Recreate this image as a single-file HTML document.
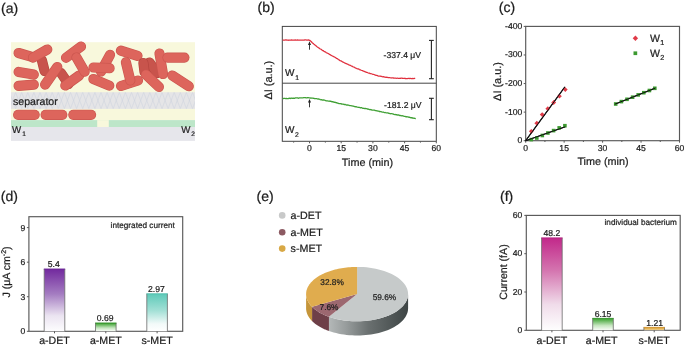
<!DOCTYPE html>
<html><head><meta charset="utf-8"><style>
html,body{margin:0;padding:0;background:#fff;}
body{width:685px;height:345px;overflow:hidden;}
svg{display:block;font-family:"Liberation Sans",sans-serif;will-change:transform;text-rendering:geometricPrecision;}
text{stroke:#1e1e1e;stroke-width:0.22px;}
</style></head><body>
<svg width="685" height="345" viewBox="0 0 685 345">
<rect width="685" height="345" fill="#fff"/>
<text x="1.00" y="12.80" font-size="14" text-anchor="start" fill="#1e1e1e" >(a)</text>
<text x="257.60" y="12.40" font-size="14" text-anchor="start" fill="#1e1e1e" >(b)</text>
<text x="498.80" y="12.40" font-size="14" text-anchor="start" fill="#1e1e1e" >(c)</text>
<text x="0.80" y="201.40" font-size="14" text-anchor="start" fill="#1e1e1e" >(d)</text>
<text x="256.60" y="201.10" font-size="14" text-anchor="start" fill="#1e1e1e" >(e)</text>
<text x="500.00" y="201.10" font-size="14" text-anchor="start" fill="#1e1e1e" >(f)</text>
<rect x="11" y="42.2" width="184" height="78" fill="#f8f8dc"/>
<rect x="11" y="92.2" width="184" height="16.7" fill="#e5e5e7"/>
<clipPath id="sepc"><rect x="11" y="92.2" width="184" height="16.7"/></clipPath>
<path d="M3.40,92.4 L9.50,108.6 M9.50,92.4 L3.40,108.6 M9.50,92.4 L15.60,108.6 M15.60,92.4 L9.50,108.6 M15.60,92.4 L21.70,108.6 M21.70,92.4 L15.60,108.6 M21.70,92.4 L27.80,108.6 M27.80,92.4 L21.70,108.6 M27.80,92.4 L33.90,108.6 M33.90,92.4 L27.80,108.6 M33.90,92.4 L40.00,108.6 M40.00,92.4 L33.90,108.6 M40.00,92.4 L46.10,108.6 M46.10,92.4 L40.00,108.6 M46.10,92.4 L52.20,108.6 M52.20,92.4 L46.10,108.6 M52.20,92.4 L58.30,108.6 M58.30,92.4 L52.20,108.6 M58.30,92.4 L64.40,108.6 M64.40,92.4 L58.30,108.6 M64.40,92.4 L70.50,108.6 M70.50,92.4 L64.40,108.6 M70.50,92.4 L76.60,108.6 M76.60,92.4 L70.50,108.6 M76.60,92.4 L82.70,108.6 M82.70,92.4 L76.60,108.6 M82.70,92.4 L88.80,108.6 M88.80,92.4 L82.70,108.6 M88.80,92.4 L94.90,108.6 M94.90,92.4 L88.80,108.6 M94.90,92.4 L101.00,108.6 M101.00,92.4 L94.90,108.6 M101.00,92.4 L107.10,108.6 M107.10,92.4 L101.00,108.6 M107.10,92.4 L113.20,108.6 M113.20,92.4 L107.10,108.6 M113.20,92.4 L119.30,108.6 M119.30,92.4 L113.20,108.6 M119.30,92.4 L125.40,108.6 M125.40,92.4 L119.30,108.6 M125.40,92.4 L131.50,108.6 M131.50,92.4 L125.40,108.6 M131.50,92.4 L137.60,108.6 M137.60,92.4 L131.50,108.6 M137.60,92.4 L143.70,108.6 M143.70,92.4 L137.60,108.6 M143.70,92.4 L149.80,108.6 M149.80,92.4 L143.70,108.6 M149.80,92.4 L155.90,108.6 M155.90,92.4 L149.80,108.6 M155.90,92.4 L162.00,108.6 M162.00,92.4 L155.90,108.6 M162.00,92.4 L168.10,108.6 M168.10,92.4 L162.00,108.6 M168.10,92.4 L174.20,108.6 M174.20,92.4 L168.10,108.6 M174.20,92.4 L180.30,108.6 M180.30,92.4 L174.20,108.6 M180.30,92.4 L186.40,108.6 M186.40,92.4 L180.30,108.6 M186.40,92.4 L192.50,108.6 M192.50,92.4 L186.40,108.6 M192.50,92.4 L198.60,108.6 M198.60,92.4 L192.50,108.6 M198.60,92.4 L204.70,108.6 M204.70,92.4 L198.60,108.6" stroke="#ced3de" stroke-width="0.55" fill="none" clip-path="url(#sepc)"/>
<rect x="11" y="120.1" width="184" height="7" fill="#bde6c9"/>
<rect x="97.2" y="120.1" width="11.6" height="7" fill="#f8f8dc"/>
<rect x="11" y="127" width="184" height="13.9" fill="#e6e6eb"/>
<line x1="18.1" y1="114.8" x2="34.7" y2="114.8" stroke="#cb564f" stroke-width="10.2" stroke-linecap="round"/>
<line x1="18.1" y1="114.8" x2="34.7" y2="114.8" stroke="#dd655c" stroke-width="8.90" stroke-linecap="round"/>
<line x1="45.6" y1="114.8" x2="62.3" y2="114.8" stroke="#cb564f" stroke-width="10.2" stroke-linecap="round"/>
<line x1="45.6" y1="114.8" x2="62.3" y2="114.8" stroke="#dd655c" stroke-width="8.90" stroke-linecap="round"/>
<line x1="73.3" y1="114.8" x2="91.1" y2="114.8" stroke="#cb564f" stroke-width="10.2" stroke-linecap="round"/>
<line x1="73.3" y1="114.8" x2="91.1" y2="114.8" stroke="#dd655c" stroke-width="8.90" stroke-linecap="round"/>
<line x1="41.9" y1="60.3" x2="44.6" y2="71.0" stroke="#b5463f" stroke-width="10.2" stroke-linecap="round"/>
<line x1="41.9" y1="60.3" x2="44.6" y2="71.0" stroke="#c8544c" stroke-width="8.90" stroke-linecap="round"/>
<line x1="61.0" y1="73.0" x2="68.5" y2="84.0" stroke="#b5463f" stroke-width="10.2" stroke-linecap="round"/>
<line x1="61.0" y1="73.0" x2="68.5" y2="84.0" stroke="#c8544c" stroke-width="8.90" stroke-linecap="round"/>
<line x1="110.0" y1="54.8" x2="101.0" y2="71.5" stroke="#cb564f" stroke-width="10.2" stroke-linecap="round"/>
<line x1="110.0" y1="54.8" x2="101.0" y2="71.5" stroke="#dd655c" stroke-width="8.90" stroke-linecap="round"/>
<line x1="149.5" y1="62.5" x2="157.0" y2="73.0" stroke="#b5463f" stroke-width="10.2" stroke-linecap="round"/>
<line x1="149.5" y1="62.5" x2="157.0" y2="73.0" stroke="#c8544c" stroke-width="8.90" stroke-linecap="round"/>
<line x1="18.6" y1="53.0" x2="31.1" y2="56.7" stroke="#cb564f" stroke-width="10.2" stroke-linecap="round"/>
<line x1="18.6" y1="53.0" x2="31.1" y2="56.7" stroke="#dd655c" stroke-width="8.90" stroke-linecap="round"/>
<line x1="33.0" y1="57.6" x2="47.3" y2="49.5" stroke="#cb564f" stroke-width="10.2" stroke-linecap="round"/>
<line x1="33.0" y1="57.6" x2="47.3" y2="49.5" stroke="#dd655c" stroke-width="8.90" stroke-linecap="round"/>
<line x1="18.6" y1="71.9" x2="33.8" y2="74.6" stroke="#cb564f" stroke-width="10.2" stroke-linecap="round"/>
<line x1="18.6" y1="71.9" x2="33.8" y2="74.6" stroke="#dd655c" stroke-width="8.90" stroke-linecap="round"/>
<line x1="18.6" y1="85.9" x2="33.8" y2="84.6" stroke="#cb564f" stroke-width="10.2" stroke-linecap="round"/>
<line x1="18.6" y1="85.9" x2="33.8" y2="84.6" stroke="#dd655c" stroke-width="8.90" stroke-linecap="round"/>
<line x1="45.1" y1="84.6" x2="57.3" y2="67.0" stroke="#cb564f" stroke-width="10.2" stroke-linecap="round"/>
<line x1="45.1" y1="84.6" x2="57.3" y2="67.0" stroke="#dd655c" stroke-width="8.90" stroke-linecap="round"/>
<line x1="65.3" y1="85.5" x2="79.2" y2="75.5" stroke="#cb564f" stroke-width="10.2" stroke-linecap="round"/>
<line x1="65.3" y1="85.5" x2="79.2" y2="75.5" stroke="#dd655c" stroke-width="8.90" stroke-linecap="round"/>
<line x1="66.0" y1="57.8" x2="81.0" y2="46.5" stroke="#cb564f" stroke-width="10.2" stroke-linecap="round"/>
<line x1="66.0" y1="57.8" x2="81.0" y2="46.5" stroke="#dd655c" stroke-width="8.90" stroke-linecap="round"/>
<line x1="76.5" y1="57.5" x2="84.7" y2="71.7" stroke="#cb564f" stroke-width="10.2" stroke-linecap="round"/>
<line x1="76.5" y1="57.5" x2="84.7" y2="71.7" stroke="#dd655c" stroke-width="8.90" stroke-linecap="round"/>
<line x1="93.5" y1="67.5" x2="109.6" y2="68.2" stroke="#cb564f" stroke-width="10.2" stroke-linecap="round"/>
<line x1="93.5" y1="67.5" x2="109.6" y2="68.2" stroke="#dd655c" stroke-width="8.90" stroke-linecap="round"/>
<line x1="93.4" y1="79.0" x2="109.3" y2="85.6" stroke="#cb564f" stroke-width="10.2" stroke-linecap="round"/>
<line x1="93.4" y1="79.0" x2="109.3" y2="85.6" stroke="#dd655c" stroke-width="8.90" stroke-linecap="round"/>
<line x1="120.9" y1="50.7" x2="137.5" y2="55.8" stroke="#cb564f" stroke-width="10.2" stroke-linecap="round"/>
<line x1="120.9" y1="50.7" x2="137.5" y2="55.8" stroke="#dd655c" stroke-width="8.90" stroke-linecap="round"/>
<line x1="121.0" y1="86.0" x2="138.0" y2="80.5" stroke="#cb564f" stroke-width="10.2" stroke-linecap="round"/>
<line x1="121.0" y1="86.0" x2="138.0" y2="80.5" stroke="#dd655c" stroke-width="8.90" stroke-linecap="round"/>
<line x1="125.9" y1="62.3" x2="130.3" y2="80.4" stroke="#cb564f" stroke-width="10.2" stroke-linecap="round"/>
<line x1="125.9" y1="62.3" x2="130.3" y2="80.4" stroke="#dd655c" stroke-width="8.90" stroke-linecap="round"/>
<line x1="143.4" y1="63.0" x2="144.5" y2="72.0" stroke="#b5463f" stroke-width="10.2" stroke-linecap="round"/>
<line x1="143.4" y1="63.0" x2="144.5" y2="72.0" stroke="#c8544c" stroke-width="8.90" stroke-linecap="round"/>
<line x1="159.5" y1="53.5" x2="163.0" y2="74.0" stroke="#cb564f" stroke-width="10.2" stroke-linecap="round"/>
<line x1="159.5" y1="53.5" x2="163.0" y2="74.0" stroke="#dd655c" stroke-width="8.90" stroke-linecap="round"/>
<line x1="145.9" y1="74.6" x2="158.9" y2="86.9" stroke="#cb564f" stroke-width="10.2" stroke-linecap="round"/>
<line x1="145.9" y1="74.6" x2="158.9" y2="86.9" stroke="#dd655c" stroke-width="8.90" stroke-linecap="round"/>
<line x1="167.5" y1="57.6" x2="184.4" y2="57.6" stroke="#cb564f" stroke-width="10.2" stroke-linecap="round"/>
<line x1="167.5" y1="57.6" x2="184.4" y2="57.6" stroke="#dd655c" stroke-width="8.90" stroke-linecap="round"/>
<line x1="172.3" y1="75.5" x2="188.8" y2="86.2" stroke="#cb564f" stroke-width="10.2" stroke-linecap="round"/>
<line x1="172.3" y1="75.5" x2="188.8" y2="86.2" stroke="#dd655c" stroke-width="8.90" stroke-linecap="round"/>
<text x="13.00" y="104.50" font-size="10.6" text-anchor="start" fill="#1e1e1e" >separator</text>
<text x="12.00" y="133.00" font-size="9.7" text-anchor="start" fill="#1e1e1e" >W</text>
<text x="22.30" y="136.20" font-size="6.6" text-anchor="start" fill="#1e1e1e" >1</text>
<text x="181.30" y="133.00" font-size="9.7" text-anchor="start" fill="#1e1e1e" >W</text>
<text x="191.20" y="136.20" font-size="6.6" text-anchor="start" fill="#1e1e1e" >2</text>
<rect x="282.3" y="26.4" width="154.0" height="114.9" fill="none" stroke="#444444" stroke-width="1"/>
<line x1="282.30" y1="83.20" x2="436.30" y2="83.20" stroke="#444444" stroke-width="1" />
<line x1="309.50" y1="141.30" x2="309.50" y2="143.30" stroke="#585858" stroke-width="1" />
<text x="309.50" y="150.90" font-size="8.6" text-anchor="middle" fill="#1e1e1e" >0</text>
<line x1="341.20" y1="141.30" x2="341.20" y2="143.30" stroke="#585858" stroke-width="1" />
<text x="341.20" y="150.90" font-size="8.6" text-anchor="middle" fill="#1e1e1e" >15</text>
<line x1="372.90" y1="141.30" x2="372.90" y2="143.30" stroke="#585858" stroke-width="1" />
<text x="372.90" y="150.90" font-size="8.6" text-anchor="middle" fill="#1e1e1e" >30</text>
<line x1="404.60" y1="141.30" x2="404.60" y2="143.30" stroke="#585858" stroke-width="1" />
<text x="404.60" y="150.90" font-size="8.6" text-anchor="middle" fill="#1e1e1e" >45</text>
<line x1="436.30" y1="141.30" x2="436.30" y2="143.30" stroke="#585858" stroke-width="1" />
<text x="436.30" y="150.90" font-size="8.6" text-anchor="middle" fill="#1e1e1e" >60</text>
<line x1="293.65" y1="141.30" x2="293.65" y2="142.60" stroke="#585858" stroke-width="1" />
<line x1="325.35" y1="141.30" x2="325.35" y2="142.60" stroke="#585858" stroke-width="1" />
<line x1="357.05" y1="141.30" x2="357.05" y2="142.60" stroke="#585858" stroke-width="1" />
<line x1="388.75" y1="141.30" x2="388.75" y2="142.60" stroke="#585858" stroke-width="1" />
<line x1="420.45" y1="141.30" x2="420.45" y2="142.60" stroke="#585858" stroke-width="1" />
<text x="367.40" y="165.80" font-size="10.8" text-anchor="middle" fill="#1e1e1e" >Time (min)</text>
<text transform="translate(271.9,80.2) rotate(-90)" font-size="10.9" text-anchor="middle" fill="#1e1e1e">ΔI (a.u.)</text>
<text x="285.00" y="75.90" font-size="10" text-anchor="start" fill="#1e1e1e" >W</text>
<text x="295.20" y="79.80" font-size="6.8" text-anchor="start" fill="#1e1e1e" >1</text>
<text x="285.00" y="133.30" font-size="10" text-anchor="start" fill="#1e1e1e" >W</text>
<text x="294.90" y="137.00" font-size="6.8" text-anchor="start" fill="#1e1e1e" >2</text>
<path d="M282.60,40.01 L283.20,40.12 L283.80,40.05 L284.40,40.14 L285.00,40.15 L285.60,39.94 L286.20,39.92 L286.80,40.22 L287.40,40.01 L288.00,40.00 L288.60,40.28 L289.20,40.09 L289.80,40.22 L290.40,40.09 L291.00,40.15 L291.60,39.97 L292.20,40.15 L292.80,40.23 L293.40,40.11 L294.00,40.19 L294.60,40.16 L295.20,39.94 L295.80,40.19 L296.40,40.13 L297.00,40.03 L297.60,39.93 L298.20,40.23 L298.80,40.09 L299.40,40.18 L300.00,40.23 L300.60,40.17 L301.20,40.24 L301.80,40.04 L302.40,40.18 L303.00,40.05 L303.60,40.22 L304.20,40.19 L304.80,39.91 L305.40,39.91 L306.00,39.94 L306.60,40.20 L307.20,40.00 L307.80,40.06 L308.40,39.94 L309.00,40.13 L309.60,40.31 L310.20,40.65 L310.80,41.20 L311.40,41.78 L312.00,42.48 L312.60,42.96 L313.20,43.60 L313.80,44.09 L314.40,44.65 L315.00,45.02 L315.60,45.32 L316.20,46.05 L316.80,46.57 L317.40,47.03 L318.00,47.37 L318.60,47.86 L319.20,48.10 L319.80,48.72 L320.40,49.01 L321.00,49.29 L321.60,49.60 L322.20,50.27 L322.80,50.69 L323.40,50.74 L324.00,51.36 L324.60,51.56 L325.20,51.81 L325.80,52.20 L326.40,52.70 L327.00,53.07 L327.60,53.11 L328.20,53.65 L328.80,53.78 L329.40,54.36 L330.00,54.55 L330.60,55.09 L331.20,55.46 L331.80,55.62 L332.40,56.13 L333.00,56.22 L333.60,56.48 L334.20,57.01 L334.80,57.15 L335.40,57.57 L336.00,58.00 L336.60,58.43 L337.20,58.62 L337.80,58.94 L338.40,59.59 L339.00,59.74 L339.60,60.32 L340.20,60.63 L340.80,60.78 L341.40,61.13 L342.00,61.48 L342.60,61.86 L343.20,62.17 L343.80,62.48 L344.40,62.80 L345.00,63.21 L345.60,63.34 L346.20,63.58 L346.80,63.95 L347.40,64.04 L348.00,64.34 L348.60,64.86 L349.20,64.97 L349.80,65.26 L350.40,65.35 L351.00,65.77 L351.60,66.11 L352.20,66.19 L352.80,66.69 L353.40,66.98 L354.00,67.05 L354.60,67.54 L355.20,67.75 L355.80,68.10 L356.40,68.24 L357.00,68.61 L357.60,68.87 L358.20,68.85 L358.80,69.10 L359.40,69.56 L360.00,69.91 L360.60,69.89 L361.20,70.20 L361.80,70.49 L362.40,70.64 L363.00,70.89 L363.60,71.11 L364.20,71.37 L364.80,71.69 L365.40,71.83 L366.00,72.09 L366.60,72.45 L367.20,72.40 L367.80,72.79 L368.40,73.04 L369.00,73.07 L369.60,73.22 L370.20,73.61 L370.80,73.59 L371.40,73.75 L372.00,74.02 L372.60,74.30 L373.20,74.26 L373.80,74.52 L374.40,74.71 L375.00,75.07 L375.60,75.11 L376.20,75.44 L376.80,75.37 L377.40,75.59 L378.00,75.85 L378.60,76.07 L379.20,76.02 L379.80,76.05 L380.40,76.11 L381.00,76.36 L381.60,76.35 L382.20,76.67 L382.80,76.79 L383.40,76.65 L384.00,76.79 L384.60,77.09 L385.20,77.13 L385.80,77.29 L386.40,77.23 L387.00,77.26 L387.60,77.42 L388.20,77.69 L388.80,77.58 L389.40,77.66 L390.00,77.74 L390.60,77.77 L391.20,77.80 L391.80,78.02 L392.40,77.77 L393.00,77.75 L393.60,78.12 L394.20,78.13 L394.80,78.21 L395.40,78.04 L396.00,78.26 L396.60,78.28 L397.20,78.06 L397.80,78.28 L398.40,78.35 L399.00,78.32 L399.60,78.29 L400.20,78.23 L400.80,78.26 L401.40,78.23 L402.00,78.19 L402.60,78.38 L403.20,78.29 L403.80,78.49 L404.40,78.22 L405.00,78.54 L405.60,78.48 L406.20,78.57 L406.80,78.57 L407.40,78.58 L408.00,78.48 L408.60,78.29 L409.20,78.56 L409.80,78.36 L410.40,78.42 L411.00,78.55 L411.60,78.51 L412.20,78.47 L412.80,78.66 L413.40,78.54 L414.00,78.44 L414.60,78.41 L415.20,78.63" stroke="#e0303e" stroke-width="1.25" fill="none" stroke-linejoin="round"/>
<path d="M282.60,98.48 L283.20,98.61 L283.80,98.41 L284.40,98.33 L285.00,98.47 L285.60,98.58 L286.20,98.29 L286.80,98.55 L287.40,98.59 L288.00,98.53 L288.60,98.53 L289.20,98.16 L289.80,98.42 L290.40,98.51 L291.00,98.14 L291.60,98.23 L292.20,98.21 L292.80,98.31 L293.40,98.24 L294.00,98.24 L294.60,98.34 L295.20,97.97 L295.80,97.96 L296.40,97.96 L297.00,97.93 L297.60,97.87 L298.20,98.24 L298.80,98.16 L299.40,97.79 L300.00,97.94 L300.60,97.82 L301.20,97.79 L301.80,97.78 L302.40,97.88 L303.00,97.82 L303.60,97.69 L304.20,97.60 L304.80,97.66 L305.40,97.57 L306.00,97.78 L306.60,97.87 L307.20,97.75 L307.80,97.64 L308.40,97.71 L309.00,97.82 L309.60,97.96 L310.20,98.09 L310.80,97.97 L311.40,98.22 L312.00,98.21 L312.60,98.19 L313.20,98.24 L313.80,98.36 L314.40,98.53 L315.00,98.49 L315.60,98.70 L316.20,98.70 L316.80,98.72 L317.40,98.95 L318.00,99.13 L318.60,98.97 L319.20,99.23 L319.80,99.34 L320.40,99.65 L321.00,99.78 L321.60,99.64 L322.20,99.98 L322.80,100.05 L323.40,99.93 L324.00,100.13 L324.60,100.09 L325.20,100.51 L325.80,100.56 L326.40,100.78 L327.00,100.85 L327.60,100.92 L328.20,101.06 L328.80,101.11 L329.40,101.02 L330.00,101.35 L330.60,101.21 L331.20,101.39 L331.80,101.79 L332.40,101.59 L333.00,101.75 L333.60,101.89 L334.20,102.38 L334.80,102.21 L335.40,102.29 L336.00,102.79 L336.60,102.62 L337.20,103.08 L337.80,103.15 L338.40,103.36 L339.00,103.56 L339.60,103.53 L340.20,103.76 L340.80,103.55 L341.40,103.99 L342.00,104.00 L342.60,104.21 L343.20,104.06 L343.80,104.46 L344.40,104.66 L345.00,104.39 L345.60,104.63 L346.20,104.85 L346.80,105.09 L347.40,104.95 L348.00,105.04 L348.60,105.19 L349.20,105.47 L349.80,105.65 L350.40,105.61 L351.00,105.71 L351.60,105.84 L352.20,105.94 L352.80,106.09 L353.40,106.06 L354.00,106.36 L354.60,106.69 L355.20,106.56 L355.80,106.83 L356.40,106.69 L357.00,107.04 L357.60,107.19 L358.20,107.27 L358.80,107.32 L359.40,107.42 L360.00,107.61 L360.60,107.84 L361.20,107.63 L361.80,107.72 L362.40,108.13 L363.00,108.32 L363.60,108.27 L364.20,108.35 L364.80,108.59 L365.40,108.48 L366.00,108.63 L366.60,108.72 L367.20,109.01 L367.80,109.01 L368.40,109.09 L369.00,109.41 L369.60,109.64 L370.20,109.47 L370.80,109.77 L371.40,109.76 L372.00,110.07 L372.60,110.07 L373.20,110.05 L373.80,110.15 L374.40,110.18 L375.00,110.50 L375.60,110.57 L376.20,110.60 L376.80,110.80 L377.40,110.90 L378.00,111.22 L378.60,111.06 L379.20,111.55 L379.80,111.45 L380.40,111.62 L381.00,111.68 L381.60,111.96 L382.20,112.07 L382.80,112.07 L383.40,112.16 L384.00,112.38 L384.60,112.56 L385.20,112.48 L385.80,112.74 L386.40,112.96 L387.00,112.86 L387.60,112.88 L388.20,113.00 L388.80,113.33 L389.40,113.43 L390.00,113.67 L390.60,113.74 L391.20,113.59 L391.80,113.69 L392.40,113.84 L393.00,113.92 L393.60,114.27 L394.20,114.46 L394.80,114.59 L395.40,114.43 L396.00,114.81 L396.60,114.69 L397.20,114.86 L397.80,115.11 L398.40,114.94 L399.00,115.07 L399.60,115.51 L400.20,115.39 L400.80,115.54 L401.40,115.75 L402.00,115.91 L402.60,115.74 L403.20,116.00 L403.80,116.16 L404.40,116.30 L405.00,116.30 L405.60,116.58 L406.20,116.87 L406.80,116.74 L407.40,116.92 L408.00,116.85 L408.60,117.04 L409.20,117.33 L409.80,117.21 L410.40,117.67 L411.00,117.79 L411.60,117.55 L412.20,118.04 L412.80,117.91 L413.40,118.21 L414.00,118.32 L414.60,118.23 L415.20,118.50 L415.80,118.56" stroke="#40a035" stroke-width="1.3" fill="none" stroke-linejoin="round"/>
<line x1="309.50" y1="43.30" x2="309.50" y2="49.70" stroke="#222" stroke-width="0.9" />
<path d="M309.5,41.30 L311.0,44.90 L308.0,44.90 Z" fill="#222"/>
<line x1="309.50" y1="100.90" x2="309.50" y2="107.30" stroke="#222" stroke-width="0.9" />
<path d="M309.5,98.90 L311.0,102.50 L308.0,102.50 Z" fill="#222"/>
<line x1="431.40" y1="40.40" x2="431.40" y2="78.70" stroke="#222" stroke-width="1.1" />
<line x1="429.00" y1="40.40" x2="433.80" y2="40.40" stroke="#222" stroke-width="1.1" />
<line x1="429.00" y1="78.70" x2="433.80" y2="78.70" stroke="#222" stroke-width="1.1" />
<line x1="431.40" y1="98.30" x2="431.40" y2="119.70" stroke="#222" stroke-width="1.1" />
<line x1="429.00" y1="98.30" x2="433.80" y2="98.30" stroke="#222" stroke-width="1.1" />
<line x1="429.00" y1="119.70" x2="433.80" y2="119.70" stroke="#222" stroke-width="1.1" />
<text x="402.30" y="58.00" font-size="8.6" text-anchor="middle" fill="#1e1e1e" >-337.4 μV</text>
<text x="402.80" y="107.80" font-size="8.6" text-anchor="middle" fill="#1e1e1e" >-181.2 μV</text>
<rect x="525.7" y="26.4" width="153.79999999999995" height="114.29999999999998" fill="none" stroke="#585858" stroke-width="1.15"/>
<line x1="525.70" y1="140.70" x2="525.70" y2="142.70" stroke="#585858" stroke-width="1" />
<text x="525.70" y="151.40" font-size="8.6" text-anchor="middle" fill="#1e1e1e" >0</text>
<line x1="564.15" y1="140.70" x2="564.15" y2="142.70" stroke="#585858" stroke-width="1" />
<text x="564.15" y="151.40" font-size="8.6" text-anchor="middle" fill="#1e1e1e" >15</text>
<line x1="602.60" y1="140.70" x2="602.60" y2="142.70" stroke="#585858" stroke-width="1" />
<text x="602.60" y="151.40" font-size="8.6" text-anchor="middle" fill="#1e1e1e" >30</text>
<line x1="641.05" y1="140.70" x2="641.05" y2="142.70" stroke="#585858" stroke-width="1" />
<text x="641.05" y="151.40" font-size="8.6" text-anchor="middle" fill="#1e1e1e" >45</text>
<line x1="679.50" y1="140.70" x2="679.50" y2="142.70" stroke="#585858" stroke-width="1" />
<text x="679.50" y="151.40" font-size="8.6" text-anchor="middle" fill="#1e1e1e" >60</text>
<line x1="544.93" y1="140.70" x2="544.93" y2="142.00" stroke="#585858" stroke-width="1" />
<line x1="583.38" y1="140.70" x2="583.38" y2="142.00" stroke="#585858" stroke-width="1" />
<line x1="621.83" y1="140.70" x2="621.83" y2="142.00" stroke="#585858" stroke-width="1" />
<line x1="660.27" y1="140.70" x2="660.27" y2="142.00" stroke="#585858" stroke-width="1" />
<line x1="523.70" y1="140.70" x2="525.70" y2="140.70" stroke="#585858" stroke-width="1" />
<text x="522.30" y="143.20" font-size="8.6" text-anchor="end" fill="#1e1e1e" >0</text>
<line x1="523.70" y1="112.12" x2="525.70" y2="112.12" stroke="#585858" stroke-width="1" />
<text x="522.30" y="114.62" font-size="8.6" text-anchor="end" fill="#1e1e1e" >-100</text>
<line x1="523.70" y1="83.55" x2="525.70" y2="83.55" stroke="#585858" stroke-width="1" />
<text x="522.30" y="86.05" font-size="8.6" text-anchor="end" fill="#1e1e1e" >-200</text>
<line x1="523.70" y1="54.97" x2="525.70" y2="54.97" stroke="#585858" stroke-width="1" />
<text x="522.30" y="57.47" font-size="8.6" text-anchor="end" fill="#1e1e1e" >-300</text>
<line x1="523.70" y1="26.40" x2="525.70" y2="26.40" stroke="#585858" stroke-width="1" />
<text x="522.30" y="28.90" font-size="8.6" text-anchor="end" fill="#1e1e1e" >-400</text>
<text x="603.00" y="165.30" font-size="10.8" text-anchor="middle" fill="#1e1e1e" >Time (min)</text>
<text transform="translate(501.2,81.5) rotate(-90)" font-size="10.9" text-anchor="middle" fill="#1e1e1e">ΔI (a.u.)</text>
<line x1="525.70" y1="140.70" x2="564.90" y2="86.90" stroke="#111" stroke-width="1.2" />
<line x1="525.70" y1="140.70" x2="565.30" y2="126.80" stroke="#111" stroke-width="1.2" />
<line x1="614.80" y1="104.20" x2="655.30" y2="88.10" stroke="#111" stroke-width="1.2" />
<path d="M531.30,128.90 L533.70,131.30 L531.30,133.70 L528.90,131.30 Z" fill="#e03a48"/>
<path d="M536.80,120.80 L539.20,123.20 L536.80,125.60 L534.40,123.20 Z" fill="#e03a48"/>
<path d="M542.20,112.20 L544.60,114.60 L542.20,117.00 L539.80,114.60 Z" fill="#e03a48"/>
<path d="M547.80,106.30 L550.20,108.70 L547.80,111.10 L545.40,108.70 Z" fill="#e03a48"/>
<path d="M553.70,100.10 L556.10,102.50 L553.70,104.90 L551.30,102.50 Z" fill="#e03a48"/>
<path d="M559.40,93.80 L561.80,96.20 L559.40,98.60 L557.00,96.20 Z" fill="#e03a48"/>
<path d="M565.30,87.20 L567.70,89.60 L565.30,92.00 L562.90,89.60 Z" fill="#e03a48"/>
<rect x="529.50" y="137.80" width="3.6" height="3.6" fill="#3c9a30"/>
<rect x="535.00" y="136.20" width="3.6" height="3.6" fill="#3c9a30"/>
<rect x="540.50" y="133.70" width="3.6" height="3.6" fill="#3c9a30"/>
<rect x="546.10" y="131.20" width="3.6" height="3.6" fill="#3c9a30"/>
<rect x="551.80" y="128.80" width="3.6" height="3.6" fill="#3c9a30"/>
<rect x="557.40" y="126.10" width="3.6" height="3.6" fill="#3c9a30"/>
<rect x="563.10" y="123.90" width="3.6" height="3.6" fill="#3c9a30"/>
<rect x="613.90" y="102.20" width="3.6" height="3.6" fill="#3c9a30"/>
<rect x="619.60" y="99.80" width="3.6" height="3.6" fill="#3c9a30"/>
<rect x="625.20" y="97.50" width="3.6" height="3.6" fill="#3c9a30"/>
<rect x="630.80" y="95.40" width="3.6" height="3.6" fill="#3c9a30"/>
<rect x="636.40" y="93.10" width="3.6" height="3.6" fill="#3c9a30"/>
<rect x="642.00" y="90.90" width="3.6" height="3.6" fill="#3c9a30"/>
<rect x="647.60" y="88.70" width="3.6" height="3.6" fill="#3c9a30"/>
<rect x="653.00" y="86.50" width="3.6" height="3.6" fill="#3c9a30"/>
<line x1="525.70" y1="140.70" x2="564.90" y2="86.90" stroke="#111" stroke-width="1.0" />
<line x1="525.70" y1="140.70" x2="565.30" y2="126.80" stroke="#111" stroke-width="1.0" />
<line x1="614.80" y1="104.20" x2="655.30" y2="88.10" stroke="#111" stroke-width="1.0" />
<path d="M635.4,35.6 L638.1,38.3 L635.4,41.0 L632.7,38.3 Z" fill="#e03a48"/>
<rect x="633.5" y="51.4" width="3.7" height="3.7" fill="#3c9a30"/>
<text x="650.00" y="42.10" font-size="10.6" text-anchor="start" fill="#1e1e1e" >W</text>
<text x="660.20" y="44.90" font-size="7.2" text-anchor="start" fill="#1e1e1e" >1</text>
<text x="650.00" y="57.10" font-size="10.6" text-anchor="start" fill="#1e1e1e" >W</text>
<text x="660.20" y="59.90" font-size="7.2" text-anchor="start" fill="#1e1e1e" >2</text>
<defs>
<linearGradient id="gP" x1="0" y1="0" x2="0" y2="1"><stop offset="0" stop-color="#72299e"/><stop offset="0.4" stop-color="#a47cc1"/><stop offset="0.75" stop-color="#ebe4f1"/><stop offset="1" stop-color="#fdfdfe"/></linearGradient>
<linearGradient id="gG" x1="0" y1="0" x2="0" y2="1"><stop offset="0" stop-color="#38a02c"/><stop offset="0.6" stop-color="#c6e6c0"/><stop offset="1" stop-color="#fbfdfa"/></linearGradient>
<linearGradient id="gT" x1="0" y1="0" x2="0" y2="1"><stop offset="0" stop-color="#5ecab9"/><stop offset="0.45" stop-color="#a3e0d6"/><stop offset="0.8" stop-color="#f2faf9"/><stop offset="1" stop-color="#ffffff"/></linearGradient>
<linearGradient id="gM" x1="0" y1="0" x2="0" y2="1"><stop offset="0" stop-color="#c2288a"/><stop offset="0.35" stop-color="#d474af"/><stop offset="0.72" stop-color="#f0dcea"/><stop offset="1" stop-color="#fefefe"/></linearGradient>
<linearGradient id="gO" x1="0" y1="0" x2="0" y2="1"><stop offset="0" stop-color="#d9a030"/><stop offset="0.7" stop-color="#e8c070"/><stop offset="1" stop-color="#fdf6e8"/></linearGradient>
<linearGradient id="sideG" x1="0" y1="0" x2="1" y2="0"><stop offset="0" stop-color="#b4b8b8"/><stop offset="0.22" stop-color="#979c9c"/><stop offset="0.5" stop-color="#6a7070"/><stop offset="0.9" stop-color="#464d4d"/><stop offset="1" stop-color="#3e4545"/></linearGradient>
</defs>
<rect x="28.9" y="216.7" width="153.79999999999998" height="114.60000000000002" fill="none" stroke="#585858" stroke-width="1.15"/>
<line x1="26.90" y1="331.30" x2="28.90" y2="331.30" stroke="#585858" stroke-width="1" />
<text x="25.40" y="334.40" font-size="8.6" text-anchor="end" fill="#1e1e1e" >0</text>
<line x1="26.90" y1="296.73" x2="28.90" y2="296.73" stroke="#585858" stroke-width="1" />
<text x="25.40" y="299.83" font-size="8.6" text-anchor="end" fill="#1e1e1e" >3</text>
<line x1="26.90" y1="262.17" x2="28.90" y2="262.17" stroke="#585858" stroke-width="1" />
<text x="25.40" y="265.27" font-size="8.6" text-anchor="end" fill="#1e1e1e" >6</text>
<line x1="26.90" y1="227.60" x2="28.90" y2="227.60" stroke="#585858" stroke-width="1" />
<text x="25.40" y="230.70" font-size="8.6" text-anchor="end" fill="#1e1e1e" >9</text>
<rect x="44.20" y="269.00" width="20.6" height="62.30" fill="url(#gP)"/>
<line x1="44.20" y1="269.00" x2="44.20" y2="331.30" stroke="#6a6a6a" stroke-width="0.8" />
<line x1="64.80" y1="269.00" x2="64.80" y2="331.30" stroke="#6a6a6a" stroke-width="0.8" />
<line x1="43.80" y1="269.00" x2="65.20" y2="269.00" stroke="#6a2496" stroke-width="0.9" />
<line x1="54.50" y1="331.30" x2="54.50" y2="333.30" stroke="#585858" stroke-width="1" />
<text x="54.50" y="344.00" font-size="10.6" text-anchor="middle" fill="#1e1e1e" >a-DET</text>
<text x="53.80" y="267.40" font-size="8.6" text-anchor="middle" fill="#1e1e1e" >5.4</text>
<rect x="95.50" y="323.00" width="20.6" height="8.30" fill="url(#gG)"/>
<line x1="95.50" y1="323.00" x2="95.50" y2="331.30" stroke="#6a6a6a" stroke-width="0.8" />
<line x1="116.10" y1="323.00" x2="116.10" y2="331.30" stroke="#6a6a6a" stroke-width="0.8" />
<line x1="95.10" y1="323.00" x2="116.50" y2="323.00" stroke="#2f8f26" stroke-width="0.9" />
<line x1="105.80" y1="331.30" x2="105.80" y2="333.30" stroke="#585858" stroke-width="1" />
<text x="105.80" y="344.00" font-size="10.6" text-anchor="middle" fill="#1e1e1e" >a-MET</text>
<text x="105.10" y="321.40" font-size="8.6" text-anchor="middle" fill="#1e1e1e" >0.69</text>
<rect x="146.80" y="293.80" width="20.6" height="37.50" fill="url(#gT)"/>
<line x1="146.80" y1="293.80" x2="146.80" y2="331.30" stroke="#6a6a6a" stroke-width="0.8" />
<line x1="167.40" y1="293.80" x2="167.40" y2="331.30" stroke="#6a6a6a" stroke-width="0.8" />
<line x1="146.40" y1="293.80" x2="167.80" y2="293.80" stroke="#4dbdab" stroke-width="0.9" />
<line x1="157.10" y1="331.30" x2="157.10" y2="333.30" stroke="#585858" stroke-width="1" />
<text x="157.10" y="344.00" font-size="10.6" text-anchor="middle" fill="#1e1e1e" >s-MET</text>
<text x="156.40" y="292.20" font-size="8.6" text-anchor="middle" fill="#1e1e1e" >2.97</text>
<text x="174.80" y="227.50" font-size="8.2" text-anchor="end" fill="#1e1e1e" >integrated current</text>
<text transform="translate(9.8,272) rotate(-90)" font-size="10.6" text-anchor="middle" fill="#1e1e1e">J (μA cm<tspan font-size="7" dy="-3.5">-2</tspan><tspan dy="3.5">)</tspan></text>
<circle cx="282.2" cy="215.4" r="3.3" fill="#c8c9c9"/>
<text x="290.60" y="219.10" font-size="10.7" text-anchor="start" fill="#1e1e1e" >a-DET</text>
<circle cx="282.2" cy="232.3" r="3.3" fill="#8c5a62"/>
<text x="290.60" y="236.00" font-size="10.7" text-anchor="start" fill="#1e1e1e" >a-MET</text>
<circle cx="282.2" cy="248.6" r="3.3" fill="#d8a845"/>
<text x="290.60" y="252.30" font-size="10.7" text-anchor="start" fill="#1e1e1e" >s-MET</text>
<path d="M408.10,294.10 L408.03,295.57 L407.80,297.03 L407.44,298.48 L406.92,299.92 L406.26,301.34 L405.46,302.74 L404.51,304.12 L403.43,305.47 L402.22,306.78 L400.87,308.06 L399.40,309.30 L397.80,310.49 L396.09,311.63 L394.26,312.73 L392.33,313.77 L390.29,314.75 L388.16,315.68 L385.93,316.54 L383.62,317.33 L381.24,318.06 L378.78,318.72 L376.27,319.31 L373.69,319.82 L371.07,320.26 L368.41,320.62 L365.71,320.91 L362.99,321.12 L360.26,321.25 L357.51,321.30 L354.76,321.27 L352.02,321.16 L349.30,320.98 L346.59,320.72 L343.92,320.38 L341.29,319.96 L338.70,319.47 L336.16,318.90 L333.69,318.26 L331.28,317.56 L328.95,316.78 L328.95,330.98 L331.28,331.76 L333.69,332.46 L336.16,333.10 L338.70,333.67 L341.29,334.16 L343.92,334.58 L346.59,334.92 L349.30,335.18 L352.02,335.36 L354.76,335.47 L357.51,335.50 L360.26,335.45 L362.99,335.32 L365.71,335.11 L368.41,334.82 L371.07,334.46 L373.69,334.02 L376.27,333.51 L378.78,332.92 L381.24,332.26 L383.62,331.53 L385.93,330.74 L388.16,329.88 L390.29,328.95 L392.33,327.97 L394.26,326.93 L396.09,325.83 L397.80,324.69 L399.40,323.50 L400.87,322.26 L402.22,320.98 L403.43,319.67 L404.51,318.32 L405.46,316.94 L406.26,315.54 L406.92,314.12 L407.44,312.68 L407.80,311.23 L408.03,309.77 L408.10,308.30 Z" fill="url(#sideG)"/>
<path d="M328.95,316.78 L328.42,316.59 L327.90,316.40 L327.38,316.21 L326.87,316.01 L326.36,315.81 L325.86,315.60 L325.36,315.39 L324.87,315.18 L324.38,314.96 L323.89,314.74 L323.41,314.52 L322.94,314.30 L322.47,314.07 L322.01,313.84 L321.55,313.60 L321.10,313.37 L320.65,313.13 L320.21,312.88 L319.78,312.64 L319.35,312.39 L318.93,312.14 L318.51,311.88 L318.10,311.62 L317.69,311.36 L317.29,311.10 L316.90,310.84 L316.51,310.57 L316.13,310.30 L315.76,310.03 L315.39,309.75 L315.03,309.47 L314.67,309.19 L314.32,308.91 L313.98,308.62 L313.64,308.34 L313.32,308.05 L312.99,307.76 L312.68,307.46 L312.37,307.17 L312.07,306.87 L312.07,321.07 L312.37,321.37 L312.68,321.66 L312.99,321.96 L313.32,322.25 L313.64,322.54 L313.98,322.82 L314.32,323.11 L314.67,323.39 L315.03,323.67 L315.39,323.95 L315.76,324.23 L316.13,324.50 L316.51,324.77 L316.90,325.04 L317.29,325.30 L317.69,325.56 L318.10,325.82 L318.51,326.08 L318.93,326.34 L319.35,326.59 L319.78,326.84 L320.21,327.08 L320.65,327.33 L321.10,327.57 L321.55,327.80 L322.01,328.04 L322.47,328.27 L322.94,328.50 L323.41,328.72 L323.89,328.94 L324.38,329.16 L324.87,329.38 L325.36,329.59 L325.86,329.80 L326.36,330.01 L326.87,330.21 L327.38,330.41 L327.90,330.60 L328.42,330.79 L328.95,330.98 Z" fill="#6e3f48"/>
<path d="M312.07,306.87 L311.78,306.58 L311.50,306.28 L311.22,305.98 L310.95,305.68 L310.69,305.38 L310.44,305.08 L310.19,304.77 L309.95,304.47 L309.71,304.16 L309.49,303.85 L309.27,303.54 L309.06,303.22 L308.85,302.91 L308.65,302.60 L308.46,302.28 L308.28,301.96 L308.10,301.64 L307.93,301.32 L307.77,301.00 L307.61,300.68 L307.47,300.36 L307.33,300.03 L307.20,299.71 L307.07,299.38 L306.95,299.06 L306.84,298.73 L306.74,298.40 L306.65,298.07 L306.56,297.74 L306.48,297.41 L306.41,297.08 L306.34,296.75 L306.29,296.42 L306.24,296.09 L306.20,295.76 L306.16,295.43 L306.13,295.10 L306.12,294.76 L306.10,294.43 L306.10,294.10 L306.10,308.30 L306.10,308.63 L306.12,308.96 L306.13,309.30 L306.16,309.63 L306.20,309.96 L306.24,310.29 L306.29,310.62 L306.34,310.95 L306.41,311.28 L306.48,311.61 L306.56,311.94 L306.65,312.27 L306.74,312.60 L306.84,312.93 L306.95,313.26 L307.07,313.58 L307.20,313.91 L307.33,314.23 L307.47,314.56 L307.61,314.88 L307.77,315.20 L307.93,315.52 L308.10,315.84 L308.28,316.16 L308.46,316.48 L308.65,316.80 L308.85,317.11 L309.06,317.42 L309.27,317.74 L309.49,318.05 L309.71,318.36 L309.95,318.67 L310.19,318.97 L310.44,319.28 L310.69,319.58 L310.95,319.88 L311.22,320.18 L311.50,320.48 L311.78,320.78 L312.07,321.07 Z" fill="#c5953a"/>
<path d="M357.10,294.10 L357.10,266.90 L360.27,266.95 L363.42,267.11 L366.55,267.37 L369.64,267.73 L372.68,268.20 L375.67,268.77 L378.58,269.43 L381.41,270.19 L384.14,271.04 L386.78,271.98 L389.29,273.00 L391.69,274.11 L393.95,275.29 L396.06,276.55 L398.03,277.87 L399.84,279.26 L401.48,280.70 L402.96,282.20 L404.25,283.74 L405.37,285.32 L406.30,286.93 L407.04,288.58 L407.58,290.24 L407.94,291.92 L408.09,293.61 L408.05,295.29 L407.81,296.98 L407.38,298.65 L406.75,300.31 L405.94,301.94 L404.93,303.54 L403.74,305.11 L402.37,306.63 L400.82,308.10 L399.11,309.52 L397.23,310.88 L395.20,312.18 L393.03,313.41 L390.71,314.56 L388.26,315.63 L385.70,316.62 L383.02,317.52 L380.25,318.34 L377.38,319.06 L374.44,319.68 L371.43,320.20 L368.36,320.63 L365.25,320.95 L362.11,321.17 L358.95,321.28 L355.79,321.29 L352.63,321.20 L349.48,320.99 L346.37,320.69 L343.29,320.28 L340.27,319.78 L337.32,319.17 L334.44,318.47 L331.64,317.67 L328.95,316.78 Z" fill="#c6caca"/>
<path d="M357.10,294.10 L328.95,316.78 L328.60,316.66 L328.25,316.53 L327.90,316.40 L327.56,316.27 L327.21,316.14 L326.87,316.01 L326.53,315.87 L326.19,315.74 L325.86,315.60 L325.53,315.46 L325.20,315.32 L324.87,315.18 L324.54,315.04 L324.22,314.89 L323.89,314.74 L323.57,314.60 L323.26,314.45 L322.94,314.30 L322.63,314.15 L322.32,313.99 L322.01,313.84 L321.70,313.68 L321.40,313.53 L321.10,313.37 L320.80,313.21 L320.51,313.05 L320.21,312.88 L319.92,312.72 L319.63,312.55 L319.35,312.39 L319.07,312.22 L318.79,312.05 L318.51,311.88 L318.23,311.71 L317.96,311.54 L317.69,311.36 L317.42,311.19 L317.16,311.01 L316.90,310.84 L316.64,310.66 L316.38,310.48 L316.13,310.30 L315.88,310.12 L315.63,309.93 L315.39,309.75 L315.15,309.56 L314.91,309.38 L314.67,309.19 L314.44,309.00 L314.21,308.81 L313.98,308.62 L313.76,308.43 L313.53,308.24 L313.32,308.05 L313.10,307.85 L312.89,307.66 L312.68,307.46 L312.47,307.27 L312.27,307.07 L312.07,306.87 Z" fill="#9c6870"/>
<path d="M357.10,294.10 L312.07,306.87 L311.27,306.04 L310.53,305.19 L309.85,304.33 L309.22,303.46 L308.64,302.58 L308.13,301.69 L307.67,300.79 L307.26,299.88 L306.92,298.96 L306.64,298.04 L306.41,297.12 L306.25,296.19 L306.15,295.25 L306.10,294.32 L306.12,293.39 L306.19,292.46 L306.33,291.52 L306.52,290.60 L306.78,289.67 L307.09,288.75 L307.47,287.84 L307.90,286.94 L308.39,286.04 L308.94,285.15 L309.54,284.28 L310.20,283.41 L310.92,282.56 L311.69,281.72 L312.51,280.90 L313.38,280.09 L314.31,279.30 L315.29,278.52 L316.32,277.77 L317.39,277.03 L318.51,276.31 L319.68,275.62 L320.89,274.95 L322.14,274.29 L323.44,273.67 L324.77,273.06 L326.15,272.48 L327.56,271.93 L329.00,271.40 L330.48,270.90 L331.99,270.43 L333.52,269.98 L335.09,269.56 L336.68,269.17 L338.30,268.82 L339.94,268.49 L341.59,268.19 L343.27,267.92 L344.96,267.68 L346.67,267.47 L348.39,267.30 L350.12,267.16 L351.86,267.04 L353.60,266.96 L355.35,266.92 L357.10,266.90 Z" fill="#e0ac4e"/>
<text x="384.40" y="299.60" font-size="8.3" text-anchor="middle" fill="#1e1e1e" >59.6%</text>
<text x="332.10" y="284.90" font-size="8.3" text-anchor="middle" fill="#1e1e1e" >32.8%</text>
<text x="329.00" y="309.60" font-size="8.3" text-anchor="middle" fill="#1e1e1e" >7.6%</text>
<rect x="526.3" y="215.4" width="153.9000000000001" height="114.9" fill="none" stroke="#585858" stroke-width="1.15"/>
<line x1="524.30" y1="330.30" x2="526.30" y2="330.30" stroke="#585858" stroke-width="1" />
<text x="522.30" y="332.90" font-size="8.6" text-anchor="end" fill="#1e1e1e" >0</text>
<line x1="524.30" y1="292.00" x2="526.30" y2="292.00" stroke="#585858" stroke-width="1" />
<text x="522.30" y="294.60" font-size="8.6" text-anchor="end" fill="#1e1e1e" >20</text>
<line x1="524.30" y1="253.70" x2="526.30" y2="253.70" stroke="#585858" stroke-width="1" />
<text x="522.30" y="256.30" font-size="8.6" text-anchor="end" fill="#1e1e1e" >40</text>
<line x1="524.30" y1="215.40" x2="526.30" y2="215.40" stroke="#585858" stroke-width="1" />
<text x="522.30" y="218.00" font-size="8.6" text-anchor="end" fill="#1e1e1e" >60</text>
<rect x="541.60" y="237.90" width="20.6" height="92.40" fill="url(#gM)"/>
<line x1="541.60" y1="237.90" x2="541.60" y2="330.30" stroke="#6a6a6a" stroke-width="0.8" />
<line x1="562.20" y1="237.90" x2="562.20" y2="330.30" stroke="#6a6a6a" stroke-width="0.8" />
<line x1="541.20" y1="237.90" x2="562.60" y2="237.90" stroke="#b52080" stroke-width="0.9" />
<line x1="551.90" y1="330.30" x2="551.90" y2="332.30" stroke="#585858" stroke-width="1" />
<text x="551.90" y="343.60" font-size="10.6" text-anchor="middle" fill="#1e1e1e" >a-DET</text>
<text x="551.90" y="236.10" font-size="8.6" text-anchor="middle" fill="#1e1e1e" >48.2</text>
<rect x="592.70" y="318.40" width="20.6" height="11.90" fill="url(#gG)"/>
<line x1="592.70" y1="318.40" x2="592.70" y2="330.30" stroke="#6a6a6a" stroke-width="0.8" />
<line x1="613.30" y1="318.40" x2="613.30" y2="330.30" stroke="#6a6a6a" stroke-width="0.8" />
<line x1="592.30" y1="318.40" x2="613.70" y2="318.40" stroke="#2f8f26" stroke-width="0.9" />
<line x1="603.00" y1="330.30" x2="603.00" y2="332.30" stroke="#585858" stroke-width="1" />
<text x="601.70" y="343.60" font-size="10.6" text-anchor="middle" fill="#1e1e1e" >a-MET</text>
<text x="603.00" y="316.60" font-size="8.6" text-anchor="middle" fill="#1e1e1e" >6.15</text>
<rect x="643.90" y="327.40" width="20.6" height="2.90" fill="url(#gO)"/>
<line x1="643.90" y1="327.40" x2="643.90" y2="330.30" stroke="#6a6a6a" stroke-width="0.8" />
<line x1="664.50" y1="327.40" x2="664.50" y2="330.30" stroke="#6a6a6a" stroke-width="0.8" />
<line x1="643.50" y1="327.40" x2="664.90" y2="327.40" stroke="#d09028" stroke-width="0.9" />
<line x1="654.20" y1="330.30" x2="654.20" y2="332.30" stroke="#585858" stroke-width="1" />
<text x="654.20" y="343.60" font-size="10.6" text-anchor="middle" fill="#1e1e1e" >s-MET</text>
<text x="654.70" y="325.60" font-size="8.6" text-anchor="middle" fill="#1e1e1e" >1.21</text>
<text x="676.90" y="224.90" font-size="8.2" text-anchor="end" fill="#1e1e1e" >individual bacterium</text>
<text transform="translate(507.2,272) rotate(-90)" font-size="10.6" text-anchor="middle" fill="#1e1e1e">Current (fA)</text>
</svg>
</body></html>
